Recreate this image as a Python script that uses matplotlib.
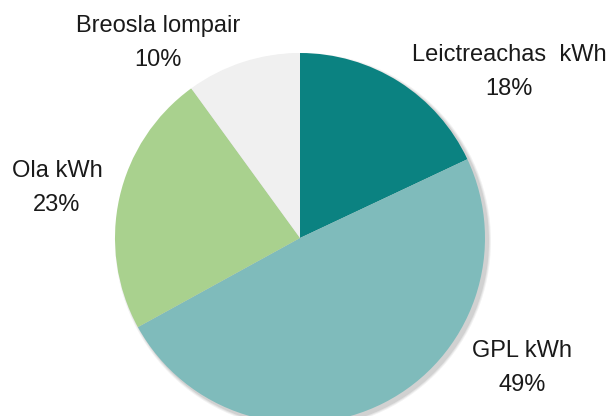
import numpy as np
import matplotlib
matplotlib.use('Agg')
import matplotlib.pyplot as plt
from matplotlib.patches import Circle

# shares of household energy use
labels = ['Leictreachas  kWh', 'GPL kWh', 'Ola kWh', 'Breosla lompair']
shares = [18, 49, 23, 10]
colors = ['#0b8281', '#7fbbbb', '#a9d18e', '#f0f0f0']

# label anchor points (pixel coords, y from bottom)
label_xy = [(509, 344), (522, 48), (57, 228), (158, 373)]

W, H = 608, 416
fig = plt.figure(figsize=(W / 100, H / 100), dpi=100)
ax = fig.add_axes([0, 0, 1, 1])

cx, cy, r = 300, 178, 185

# soft shadow under the pie
for k, a in enumerate([0.05, 0.06, 0.08]):
    ax.add_patch(Circle((cx + 3, cy - 3), r + 3 - k, color='black', alpha=a, lw=0, zorder=0))

ax.pie(shares, colors=colors, startangle=90, counterclock=False,
       center=(cx, cy), radius=r, frame=True,
       wedgeprops=dict(linewidth=0, zorder=1))
ax.set_xlim(0, W)
ax.set_ylim(0, H)
ax.set_aspect('equal')
ax.axis('off')

for lab, val, (x, y) in zip(labels, shares, label_xy):
    ax.text(x, y, f'{lab}\n{val}%', ha='center', va='center',
            fontsize=17, family='Liberation Sans', color='#1a1a1a', linespacing=1.7)

fig.savefig('out.png', dpi=100)
